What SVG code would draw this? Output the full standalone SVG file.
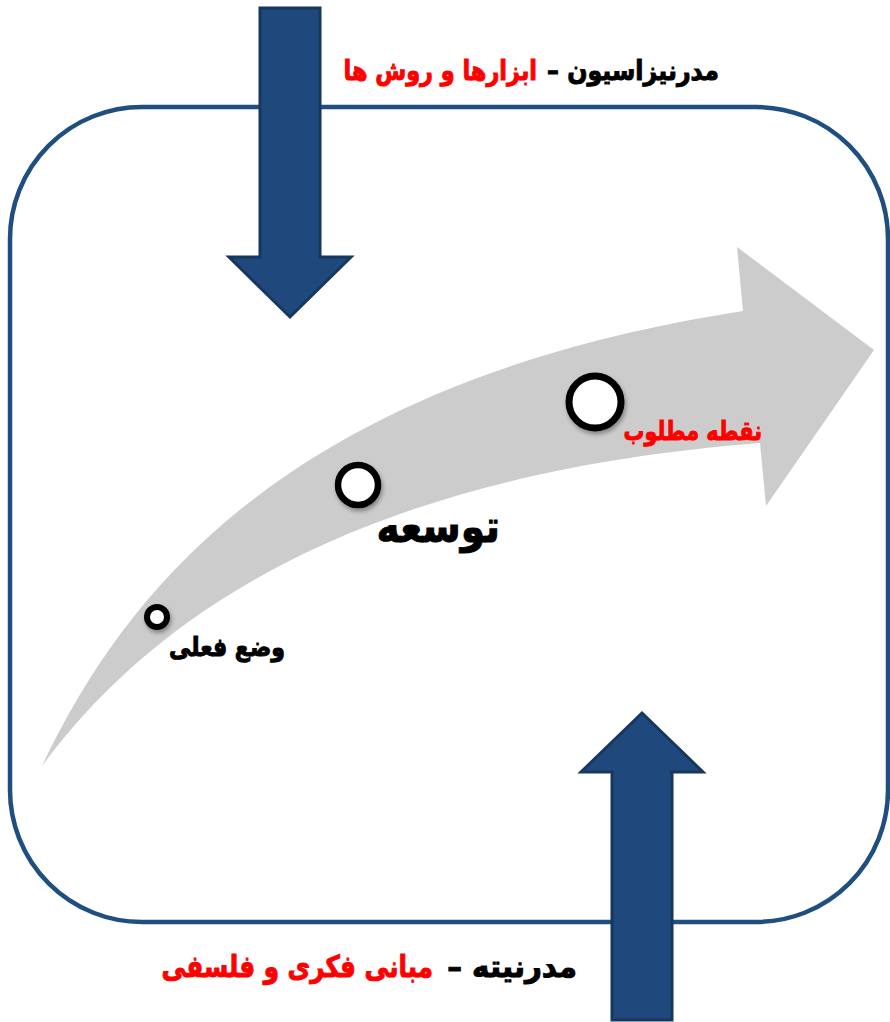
<svg xmlns="http://www.w3.org/2000/svg" width="890" height="1022" viewBox="0 0 890 1022">
  <defs>
    <style>
      .frame { fill: #ffffff; stroke: #1f4e80; stroke-width: 4.5; }
      .band { fill: #cccccc; stroke: none; }
      .blue { fill: #1f497d; stroke: #17375e; stroke-width: 3; stroke-linejoin: miter; }
      .dot { fill: #ffffff; stroke: #000000; filter: url(#sh); }
      .t { font-family: "DejaVu Sans", "Noto Sans", sans-serif; font-weight: bold; direction: rtl; text-anchor: start; }
      .blk { fill: #000000; stroke: #000000; stroke-width: 1; }
      .red { fill: #ff0000; stroke: #ff0000; stroke-width: 1; }
    </style>
    <filter id="sh" x="-50%" y="-50%" width="200%" height="200%">
      <feDropShadow dx="1.5" dy="3" stdDeviation="2" flood-color="#000000" flood-opacity="0.35"/>
    </filter>
  </defs>

  <g id="frame">
    <rect class="frame" x="10" y="107" width="878" height="815" rx="132" ry="132"/>
  </g>

  <g id="development-arrow">
    <path class="band" d="M42,766 C130,580 300,380 743,311 L737,247 L874,350 L766,506 L760,443 C350,475 150,620 42,766 Z"/>
  </g>

  <g id="connectors">
    <polygon id="arrow-down" class="blue" points="260,8 320,8 320,257 351,257 290,317 229,257 260,257"/>
    <polygon id="arrow-up" class="blue" points="612,1020 672,1020 672,772 703,772 642,713 581,772 612,772"/>
  </g>

  <g id="node-current">
    <circle class="dot" cx="157" cy="617" r="10" stroke-width="6"/>
    <text class="t blk" transform="translate(285,656) scale(0.85,1)" x="0" y="0" font-size="26" direction="rtl">وضع فعلی</text>
  </g>

  <g id="node-development">
    <circle class="dot" cx="358" cy="485" r="20" stroke-width="6.5"/>
    <text class="t blk" transform="translate(500,542) scale(0.87,1)" x="0" y="0" font-size="45" direction="rtl">توسعه</text>
  </g>

  <g id="node-goal">
    <circle class="dot" cx="595" cy="402" r="26" stroke-width="7"/>
    <text class="t red" transform="translate(762,440) scale(0.8,1)" x="0" y="0" font-size="26" direction="rtl">نقطه مطلوب</text>
  </g>

  <g id="label-top">
    <text class="t blk" transform="translate(719,80) scale(0.88,1)" x="0" y="0" font-size="27" direction="rtl">مدرنیزاسیون –</text>
    <text class="t red" transform="translate(537,80) scale(0.83,1)" x="0" y="0" font-size="27" direction="rtl">ابزارها و روش ها</text>
  </g>

  <g id="label-bottom">
    <text class="t blk" transform="translate(577,977) scale(0.98,1)" x="0" y="0" font-size="30" direction="rtl">مدرنیته –</text>
    <text class="t red" transform="translate(433,977) scale(0.82,1)" x="0" y="0" font-size="30" direction="rtl">مبانی فکری و فلسفی</text>
  </g>
</svg>
